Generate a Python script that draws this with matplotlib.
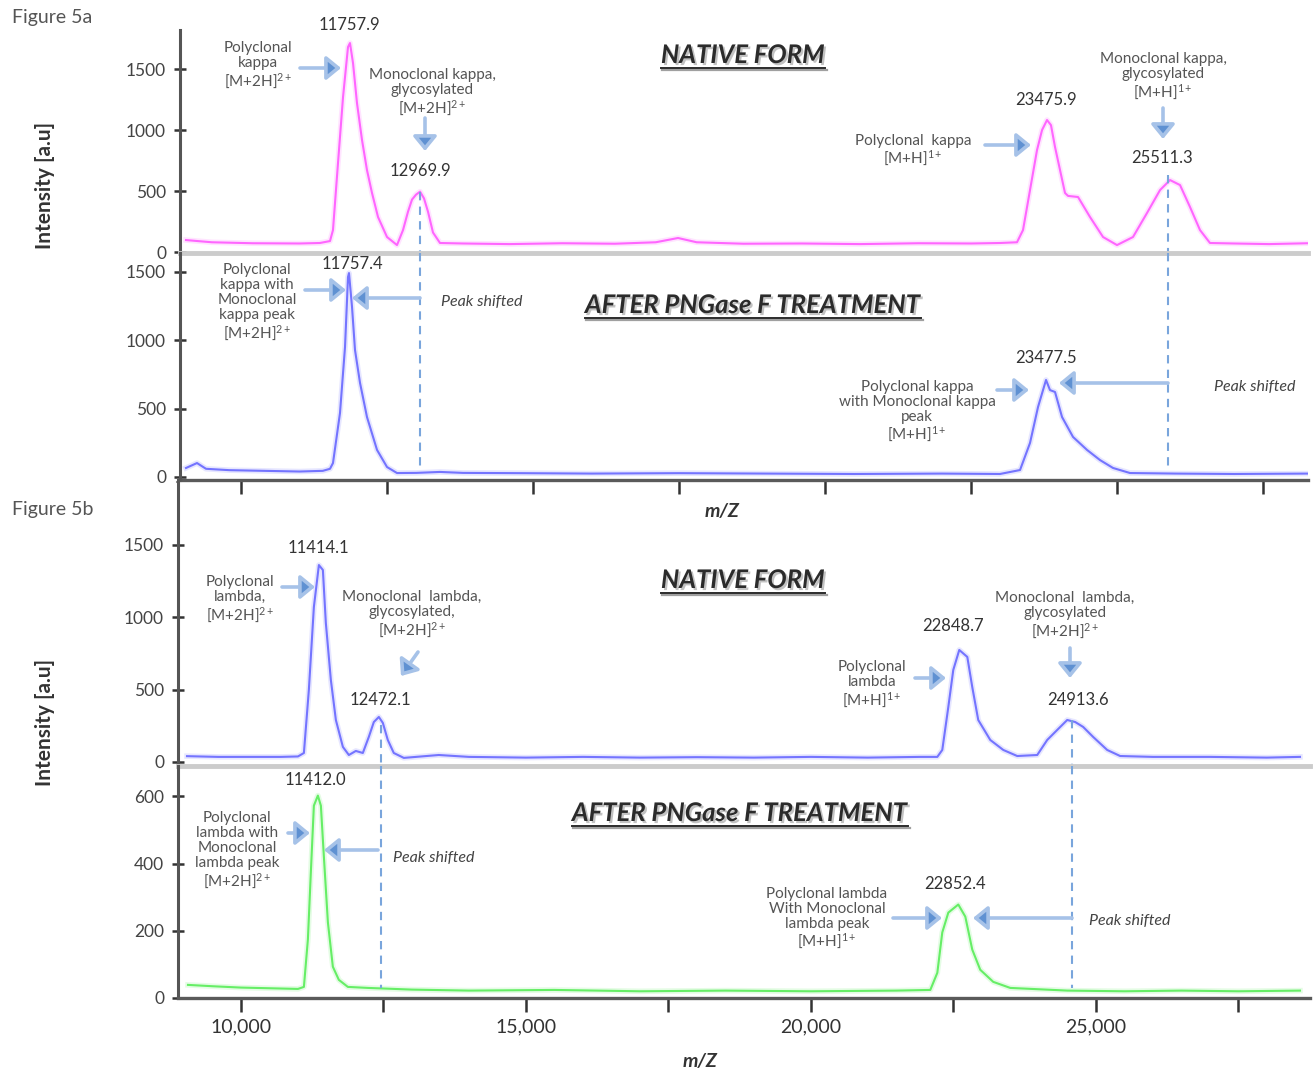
import matplotlib.pyplot as plt
import matplotlib.patheffects as pe
from matplotlib.lines import Line2D
from matplotlib.patches import FancyArrowPatch

W, H = 1314, 1072

# Figure 5a, native form (kappa) - m/z and intensity
mz_a_native = [9058, 9500, 10200, 11000, 11350, 11523, 11574, 11660, 11746, 11831, 11865,
               11917, 11985, 12071, 12156, 12242, 12345, 12499, 12670, 12773, 12858, 12927,
               12995, 13064, 13132, 13201, 13286, 13406, 13800, 14600, 15500, 16400, 17100,
               17481, 17800, 18600, 19600, 20600, 21600, 22500, 22993, 23284, 23387, 23507,
               23627, 23713, 23798, 23866, 23935, 24106, 24158, 24329, 24534, 24757, 24996,
               25270, 25510, 25733, 25904, 26075, 26246, 26417, 26588, 27000, 27600, 28266]
int_a_native = [98, 80, 72, 70, 74, 90, 180, 730, 1270, 1680, 1713,
                1549, 1221, 918, 672, 484, 287, 123, 57, 180, 330, 430,
                470, 495, 440, 330, 160, 74, 70, 65, 72, 68, 80,
                115, 80, 68, 70, 65, 72, 70, 74, 80, 180, 508,
                836, 1000, 1082, 1040, 861, 484, 460, 451, 287, 123, 57,
                123, 320, 508, 590, 549, 369, 180, 74, 70, 65, 72]

# Figure 5a, after PNGase F
mz_a_pngase = [9058, 9246, 9400, 9800, 10400, 11000, 11400, 11523, 11574, 11694, 11780,
               11831, 11848, 11900, 11951, 12037, 12156, 12328, 12499, 12670, 13000, 13406,
               13800, 14800, 16000, 17500, 19000, 20500, 22000, 22993, 23336, 23507, 23644,
               23781, 23849, 23935, 24055, 24243, 24483, 24705, 24928, 25219, 26000, 27000, 28266]
int_a_pngase = [66, 102, 60, 50, 45, 40, 45, 60, 102, 468, 951,
                1463, 1492, 1244, 929, 688, 439, 198, 73, 29, 30, 37,
                30, 28, 25, 28, 25, 22, 25, 22, 51, 249, 512,
                710, 636, 622, 439, 293, 198, 124, 66, 29, 25, 22, 25]

# Figure 5b, native form (lambda)
mz_b_native = [9053, 9600, 10200, 10701, 11000, 11104, 11191, 11279, 11367, 11437, 11489,
               11577, 11665, 11788, 11893, 12015, 12138, 12243, 12331, 12419, 12489, 12576,
               12681, 12857, 13470, 14000, 15000, 16000, 17000, 18000, 19000, 20000, 21000,
               21920, 22218, 22305, 22411, 22498, 22603, 22744, 22831, 22936, 23147, 23375,
               23620, 23971, 24146, 24321, 24497, 24637, 24777, 24952, 25198, 25426, 26000,
               27000, 28000, 28581]
int_b_native = [40, 35, 35, 35, 38, 62, 498, 1071, 1361, 1327, 961,
                567, 290, 104, 48, 76, 62, 173, 276, 311, 270, 152,
                62, 28, 48, 35, 30, 35, 30, 33, 30, 35, 30,
                35, 35, 83, 380, 636, 774, 726, 518, 290, 152, 83,
                41, 48, 152, 221, 290, 276, 242, 173, 83, 41, 35,
                35, 30, 35]

# Figure 5b, after PNGase F
mz_b_pngase = [9070, 9500, 10000, 10500, 11000, 11104, 11174, 11226, 11279, 11349, 11402,
               11454, 11525, 11612, 11717, 11875, 12226, 13000, 14000, 15500, 17000, 18500,
               20000, 21500, 22095, 22218, 22305, 22411, 22586, 22709, 22831, 22971, 23199,
               23497, 24500, 25500, 26500, 27500, 28581]
int_b_pngase = [39, 35, 31, 29, 27, 33, 174, 374, 572, 602, 572,
                422, 225, 93, 54, 33, 30, 25, 22, 24, 20, 22,
                20, 22, 24, 75, 195, 254, 278, 242, 144, 84, 48,
                30, 22, 20, 22, 20, 22]

# glycosylated peak positions marked with dashed lines
shift_a = [13064, 25870]
shift_b = [12454, 24584]

x_ticks = [10000, 12500, 15000, 17500, 20000, 22500, 25000, 27500]
x_labels = ['10,000', '', '15,000', '', '20,000', '', '25,000', '']

plt.rcParams['font.family'] = ['Lato', 'DejaVu Sans']
plt.rcParams['mathtext.fontset'] = 'custom'
plt.rcParams['mathtext.rm'] = 'Lato'
plt.rcParams['mathtext.it'] = 'Lato:italic'
plt.rcParams['mathtext.bf'] = 'Lato:bold'

fig = plt.figure(figsize=(W / 100, H / 100), dpi=100)


def box(left, top, right, bottom):
    return [left / W, 1 - bottom / H, (right - left) / W, (bottom - top) / H]


def fpos(x, y):
    return (x / W, 1 - y / H)


ax_a1 = fig.add_axes(box(180, 30, 1308, 253))
ax_a2 = fig.add_axes(box(180, 253, 1308, 480))
ax_b1 = fig.add_axes(box(178, 480, 1310, 766))
ax_b2 = fig.add_axes(box(178, 766, 1310, 998))

for ax in [ax_a1, ax_a2, ax_b1, ax_b2]:
    ax.spines['top'].set_visible(False)
    ax.spines['right'].set_visible(False)
    ax.spines['left'].set_color('#555555')
    ax.spines['left'].set_linewidth(2.2)
    ax.tick_params(axis='y', direction='inout', length=8, width=1.8, color='#333333',
                   labelsize=12.5, labelcolor='#444444', pad=6)
    ax.set_facecolor('none')

for ax in [ax_a1, ax_b1]:
    ax.spines['bottom'].set_color('#cccccc')
    ax.spines['bottom'].set_linewidth(3.5)
    ax.set_xticks([])

for ax in [ax_a2, ax_b2]:
    ax.spines['bottom'].set_color('#5a5a5a')
    ax.spines['bottom'].set_linewidth(2.4)
    ax.set_xticks(x_ticks)
    ax.tick_params(axis='x', direction='out', length=10, width=1.8, color='#333333',
                   labelsize=14, labelcolor='#333333', pad=5)

ax_a2.set_xticklabels([])
ax_b2.set_xticklabels(x_labels)

ax_a1.set_xlim(8955, 28266)
ax_a2.set_xlim(8955, 28266)
ax_b1.set_xlim(8895, 28757)
ax_b2.set_xlim(8895, 28757)

ax_a1.set_ylim(-8, 1820)
ax_a2.set_ylim(-22, 1639)
ax_b1.set_ylim(-28, 1949)
ax_b2.set_ylim(0, 690)

ax_a1.set_yticks([0, 500, 1000, 1500])
ax_a2.set_yticks([0, 500, 1000, 1500])
ax_b1.set_yticks([0, 500, 1000, 1500])
ax_b2.set_yticks([0, 200, 400, 600])


def spectrum(ax, x, y, color, halo):
    ax.plot(x, y, color=color, lw=1.5, solid_joinstyle='round',
            path_effects=[pe.Stroke(linewidth=4, foreground=halo, alpha=0.35), pe.Normal()])


spectrum(ax_a1, mz_a_native, int_a_native, '#ff66ff', '#ffb3ff')
spectrum(ax_a2, mz_a_pngase, int_a_pngase, '#7474ff', '#b9b9ff')
spectrum(ax_b1, mz_b_native, int_b_native, '#7474ff', '#b9b9ff')
spectrum(ax_b2, mz_b_pngase, int_b_pngase, '#66ee66', '#b3f7b3')

dash = dict(color='#79a5dc', lw=1.5, ls=(0, (4, 3)))
ax_a1.plot([shift_a[0], shift_a[0]], [495, -8], **dash)
ax_a1.plot([shift_a[1], shift_a[1]], [630, -8], **dash)
ax_a2.plot([shift_a[0], shift_a[0]], [1639, 70], **dash)
ax_a2.plot([shift_a[1], shift_a[1]], [1639, 50], **dash)
ax_b1.plot([shift_b[0], shift_b[0]], [255, -28], **dash)
ax_b1.plot([shift_b[1], shift_b[1]], [290, -28], **dash)
ax_b2.plot([shift_b[0], shift_b[0]], [690, 30], **dash)
ax_b2.plot([shift_b[1], shift_b[1]], [690, 30], **dash)

# side labels
fig.text(*fpos(12, 17), 'Figure 5a', fontsize=14, color='#555555', ha='left', va='center')
fig.text(*fpos(12, 510), 'Figure 5b', fontsize=14, color='#555555', ha='left', va='center')
fig.text(*fpos(45, 185), 'Intensity [a.u]', rotation=90, fontsize=15, fontweight='bold',
         color='#333333', ha='center', va='center')
fig.text(*fpos(45, 722), 'Intensity [a.u]', rotation=90, fontsize=15, fontweight='bold',
         color='#333333', ha='center', va='center')
fig.text(*fpos(722, 512), 'm/Z', fontsize=14, fontweight='bold', fontstyle='italic',
         color='#333333', ha='center', va='center')
fig.text(*fpos(700, 1062), 'm/Z', fontsize=14, fontweight='bold', fontstyle='italic',
         color='#333333', ha='center', va='center')

peak_labels = [('11757.9', 349, 25), ('12969.9', 420, 171), ('23475.9', 1046, 100),
               ('25511.3', 1162, 158), ('11757.4', 352, 264), ('23477.5', 1046, 358),
               ('11414.1', 318, 548), ('12472.1', 380, 700), ('22848.7', 953, 626),
               ('24913.6', 1078, 700), ('11412.0', 315, 780), ('22852.4', 955, 884)]
for s, x, y in peak_labels:
    fig.text(*fpos(x, y), s, fontsize=12, color='#333333', ha='center', va='center')

notes = [('Polyclonal\nkappa\n[M+2H]$^{2+}$', 258, 66),
         ('Monoclonal kappa,\nglycosylated\n[M+2H]$^{2+}$', 432, 93),
         ('Polyclonal  kappa\n[M+H]$^{1+}$', 913, 151),
         ('Monoclonal kappa,\nglycosylated\n[M+H]$^{1+}$', 1163, 77),
         ('Polyclonal\nkappa with\nMonoclonal\nkappa peak\n[M+2H]$^{2+}$', 257, 303),
         ('Polyclonal kappa\nwith Monoclonal kappa\npeak\n[M+H]$^{1+}$', 917, 412),
         ('Polyclonal\nlambda,\n[M+2H]$^{2+}$', 240, 600),
         ('Monoclonal  lambda,\nglycosylated,\n[M+2H]$^{2+}$', 412, 615),
         ('Polyclonal\nlambda\n[M+H]$^{1+}$', 872, 685),
         ('Monoclonal  lambda,\nglycosylated\n[M+2H]$^{2+}$', 1065, 616),
         ('Polyclonal\nlambda with\nMonoclonal\nlambda peak\n[M+2H]$^{2+}$', 237, 851),
         ('Polyclonal lambda\nWith Monoclonal\nlambda peak\n[M+H]$^{1+}$', 827, 919)]
for s, x, y in notes:
    fig.text(*fpos(x, y), s, fontsize=11, color='#555555', ha='center', va='center',
             linespacing=1.1)

for x, y in [(482, 302), (1255, 387), (434, 858), (1130, 921)]:
    fig.text(*fpos(x, y), 'Peak shifted', fontsize=11.5, fontstyle='italic', color='#444444',
             ha='center', va='center')

arrows = [((300, 68), (341, 68)), ((425, 118), (425, 151)), ((985, 145), (1031, 145)),
          ((1163, 108), (1163, 139)), ((305, 290), (346, 290)), ((420, 298), (352, 298)),
          ((997, 390), (1029, 390)), ((1168, 383), (1059, 383)), ((282, 587), (315, 587)),
          ((418, 652), (401, 676)), ((915, 678), (946, 678)), ((1070, 648), (1070, 678)),
          ((288, 833), (310, 833)), ((378, 850), (324, 850)), ((893, 918), (942, 918)),
          ((1072, 918), (973, 918))]
for a, b in arrows:
    fig.add_artist(FancyArrowPatch(fpos(*a), fpos(*b), transform=fig.transFigure,
                                   arrowstyle='-|>,head_length=0.55,head_width=0.45',
                                   mutation_scale=16, edgecolor='#a6c2e8',
                                   facecolor='#5f91d2', lw=2.6,
                                   shrinkA=0, shrinkB=0))

# left axis line runs on between the two figures
fig.add_artist(Line2D([180 / W, 178 / W], [1 - 480 / H, 1 - 482 / H], color='#555555', lw=2.2,
                      transform=fig.transFigure))

titles = [('NATIVE FORM', 743, 55), ('AFTER PNGase F TREATMENT', 753, 305),
          ('NATIVE FORM', 743, 580), ('AFTER PNGase F TREATMENT', 740, 813)]
title_texts = []
for s, x, y in titles:
    t = fig.text(*fpos(x, y), s, fontsize=18.5, fontweight='bold', fontstyle='italic',
                 color='#2b2b2b', ha='center', va='center',
                 path_effects=[pe.withSimplePatchShadow(offset=(1.5, -1.5),
                                                        shadow_rgbFace='#9a9a9a', alpha=0.6)])
    title_texts.append(t)

fig.canvas.draw()
for t in title_texts:
    bb = t.get_window_extent()
    yl = bb.y0 - 1
    fig.add_artist(Line2D([bb.x0 / W + 1.5 / W, bb.x1 / W + 1.5 / W], [(yl - 2) / H, (yl - 2) / H],
                          color='#a0a0a0', lw=1.6, transform=fig.transFigure))
    fig.add_artist(Line2D([bb.x0 / W, bb.x1 / W], [yl / H, yl / H],
                          color='#2b2b2b', lw=1.4, transform=fig.transFigure))

fig.savefig('out.png', dpi=100)
